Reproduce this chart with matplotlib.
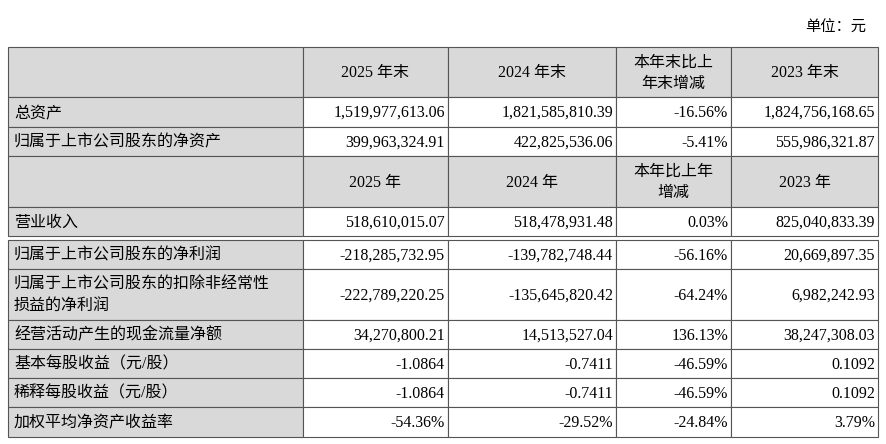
import matplotlib.pyplot as plt
from matplotlib.patches import Rectangle

plt.rcParams['font.family'] = ['Liberation Serif', 'Noto Sans CJK SC']

header1 = ["", "2025 年末", "2024 年末", "本年末比上\n年末增减", "2023 年末"]
header2 = ["", "2025 年", "2024 年", "本年比上年\n增减", "2023 年"]
rows_a = [
    ["总资产", "1,519,977,613.06", "1,821,585,810.39", "-16.56%", "1,824,756,168.65"],
    ["归属于上市公司股东的净资产", "399,963,324.91", "422,825,536.06", "-5.41%", "555,986,321.87"],
]
rows_b = [
    ["营业收入", "518,610,015.07", "518,478,931.48", "0.03%", "825,040,833.39"],
]
rows_c = [
    ["归属于上市公司股东的净利润", "-218,285,732.95", "-139,782,748.44", "-56.16%", "20,669,897.35"],
    ["归属于上市公司股东的扣除非经常性\n损益的净利润", "-222,789,220.25", "-135,645,820.42", "-64.24%", "6,982,242.93"],
    ["经营活动产生的现金流量净额", "34,270,800.21", "14,513,527.04", "136.13%", "38,247,308.03"],
    ["基本每股收益（元/股）", "-1.0864", "-0.7411", "-46.59%", "0.1092"],
    ["稀释每股收益（元/股）", "-1.0864", "-0.7411", "-46.59%", "0.1092"],
    ["加权平均净资产收益率", "-54.36%", "-29.52%", "-24.84%", "3.79%"],
]

cols = [8, 303, 448, 616, 731, 878]
grey = "#d9d9d9"

fig = plt.figure(figsize=(8.87, 4.44), dpi=100)
ax = fig.add_axes([0, 0, 1, 1])
ax.set_xlim(0, 887)
ax.set_ylim(444, 0)
ax.axis("off")

ax.text(866, 28, "单位：元", ha="right", va="center", fontsize=11)


def draw_row(cells, y0, y1, header=False):
    for i in range(5):
        x0, x1 = cols[i], cols[i + 1]
        fc = grey if (header or i == 0) else "white"
        ax.add_patch(Rectangle((x0, y0), x1 - x0, y1 - y0, fc=fc, ec="#555555", lw=0.8))
        t = cells[i]
        if not t:
            continue
        ym = (y0 + y1) / 2 + 1
        if i == 0:
            ax.text(x0 + 6, ym, t, ha="left", va="center", fontsize=11.5, linespacing=1.45)
        elif header:
            ax.text((x0 + x1) / 2, ym, t, ha="center", va="center", fontsize=11.5, linespacing=1.45)
        else:
            ax.text(x1 - 3, ym, t, ha="right", va="center", fontsize=11.5)


ys_a = [47, 97, 127, 156]
draw_row(header1, ys_a[0], ys_a[1], header=True)
for r, (y0, y1) in zip(rows_a, zip(ys_a[1:], ys_a[2:])):
    draw_row(r, y0, y1)
draw_row(header2, 156, 207, header=True)
draw_row(rows_b[0], 207, 236)

ys_c = [240, 269, 320, 349, 378, 407, 437]
for r, (y0, y1) in zip(rows_c, zip(ys_c[:-1], ys_c[1:])):
    draw_row(r, y0, y1)

fig.savefig("out.png", dpi=100)
